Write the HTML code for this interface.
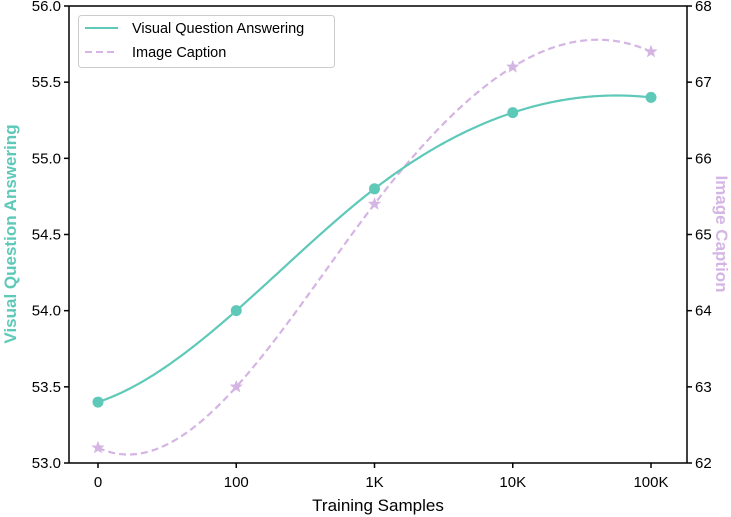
<!DOCTYPE html>
<html><head><meta charset="utf-8"><style>
body{margin:0;background:#fff}
svg{display:block;font-family:"Liberation Sans",Arial,sans-serif}
</style></head><body>
<svg id="chart" width="731" height="517" viewBox="0 0 731 517"></svg>
<script>
const categories=["0","100","1K","10K","100K"];
const vqaValues=[53.4,54.0,54.8,55.3,55.4];
const capValues=[62.2,63.0,65.4,67.2,67.4];
const leftTicks=[53.0,53.5,54.0,54.5,55.0,55.5,56.0];
const rightTicks=[62,63,64,65,66,67,68];

const NS="http://www.w3.org/2000/svg";
const svg=document.getElementById('chart');
const L=69,R=687,T=6,B=463;
const xs=i=>98+i*(651-98)/(categories.length-1);
const yl=v=>B-(v-53)/(56-53)*(B-T);
const yr=v=>B-(v-62)/(68-62)*(B-T);
const TEAL="#5ec9b8",LAV="#d4b5e4";
function mk(tag,attrs,parent){const e=document.createElementNS(NS,tag);for(const k in attrs)e.setAttribute(k,attrs[k]);(parent||svg).appendChild(e);return e;}

function spline(x,y){
  const n=x.length-1,N=4*n,A=[],b=[];
  const row=()=>new Array(N).fill(0);
  for(let i=0;i<n;i++){
    let r=row();r[4*i]=1;A.push(r);b.push(y[i]);
    const h=x[i+1]-x[i];r=row();r[4*i]=1;r[4*i+1]=h;r[4*i+2]=h*h;r[4*i+3]=h*h*h;A.push(r);b.push(y[i+1]);
  }
  for(let i=0;i<n-1;i++){
    const h=x[i+1]-x[i];
    let r=row();r[4*i+1]=1;r[4*i+2]=2*h;r[4*i+3]=3*h*h;r[4*(i+1)+1]=-1;A.push(r);b.push(0);
    r=row();r[4*i+2]=2;r[4*i+3]=6*h;r[4*(i+1)+2]=-2;A.push(r);b.push(0);
  }
  let r=row();r[3]=1;r[7]=-1;A.push(r);b.push(0);
  r=row();r[4*(n-2)+3]=1;r[4*(n-1)+3]=-1;A.push(r);b.push(0);
  for(let c=0;c<N;c++){let p=c;for(let k=c+1;k<N;k++)if(Math.abs(A[k][c])>Math.abs(A[p][c]))p=k;
    [A[c],A[p]]=[A[p],A[c]];[b[c],b[p]]=[b[p],b[c]];
    for(let k=0;k<N;k++)if(k!==c){const f=A[k][c]/A[c][c];if(f)for(let j=c;j<N;j++)A[k][j]-=f*A[c][j];b[k]-=f*b[c];}}
  const co=b.map((v,i)=>v/A[i][i]);
  return t=>{let i=Math.min(n-1,Math.max(0,Math.floor(t)));const d=t-x[i];return co[4*i]+co[4*i+1]*d+co[4*i+2]*d*d+co[4*i+3]*d*d*d;};
}
const idx=categories.map((c,i)=>i);
function curve(vals,yf,attrs,name){
  const f=spline(idx,vals);let d="";
  for(let k=0;k<=400;k++){const t=k/400*(vals.length-1);d+=(k?"L":"M")+xs(t).toFixed(2)+","+yf(f(t)).toFixed(2);}
  const p=mk('path',Object.assign({d:d,fill:"none"},attrs));
  
}
curve(capValues,yr,{stroke:LAV,"stroke-width":2.2,"stroke-dasharray":"7,4"},'caption-line');
curve(vqaValues,yl,{stroke:TEAL,"stroke-width":2.2},'vqa-line');
vqaValues.forEach((v,i)=>{const c=mk('circle',{cx:xs(i),cy:yl(v),r:5.5,fill:TEAL});
  });
function star(cx,cy,ro){let d="";for(let k=0;k<10;k++){const a=-Math.PI/2+k*Math.PI/5,r=k%2?ro*0.42:ro;d+=(k?"L":"M")+(cx+r*Math.cos(a)).toFixed(2)+","+(cy+r*Math.sin(a)).toFixed(2);}return d+"Z";}
capValues.forEach((v,i)=>{const s=mk('path',{d:star(xs(i),yr(v),7),fill:LAV});
  });

const ax=mk('g',{stroke:"#000","stroke-width":1.5});

mk('line',{x1:L,y1:T,x2:L,y2:B},ax);mk('line',{x1:R,y1:T,x2:R,y2:B},ax);
mk('line',{x1:L,y1:B,x2:R,y2:B},ax);mk('line',{x1:L,y1:T,x2:R,y2:T},ax);
categories.forEach((c,i)=>{mk('line',{x1:xs(i),y1:B,x2:xs(i),y2:B+5},ax);
  const t=mk('text',{x:xs(i),y:B+24,"text-anchor":"middle","font-size":15,stroke:"none"});t.textContent=c;
  });
leftTicks.forEach(v=>{mk('line',{x1:L-5,y1:yl(v),x2:L,y2:yl(v)},ax);
  const t=mk('text',{x:L-8,y:yl(v)+5,"text-anchor":"end","font-size":15,stroke:"none"});t.textContent=v.toFixed(1);
  });
rightTicks.forEach(v=>{mk('line',{x1:R,y1:yr(v),x2:R+5,y2:yr(v)},ax);
  const t=mk('text',{x:R+8,y:yr(v)+5,"font-size":15,stroke:"none"});t.textContent=v;
  });
</script>
<svg style="position:absolute;left:0;top:0" width="731" height="517" font-family="Liberation Sans,Arial,sans-serif">
<text x="378" y="511" text-anchor="middle" font-size="17">Training Samples</text>
<text transform="translate(16,234) rotate(-90)" text-anchor="middle" font-size="17" font-weight="bold" fill="#5ec9b8">Visual Question Answering</text>
<text transform="translate(716,234) rotate(90)" text-anchor="middle" font-size="17" font-weight="bold" fill="#d4b5e4">Image Caption</text>
<g>
<rect x="78.5" y="15.5" width="256" height="52" rx="3" fill="#fff" fill-opacity="0.85" stroke="#ccc"/>
<line x1="85" y1="28" x2="118" y2="28" stroke="#5ec9b8" stroke-width="2"/>
<text x="132" y="33" font-size="14.5">Visual Question Answering</text>
<line x1="85" y1="52" x2="118" y2="52" stroke="#d4b5e4" stroke-width="2" stroke-dasharray="7,4"/>
<text x="132" y="57" font-size="14.5">Image Caption</text>
</g>
</svg>
</body></html>
